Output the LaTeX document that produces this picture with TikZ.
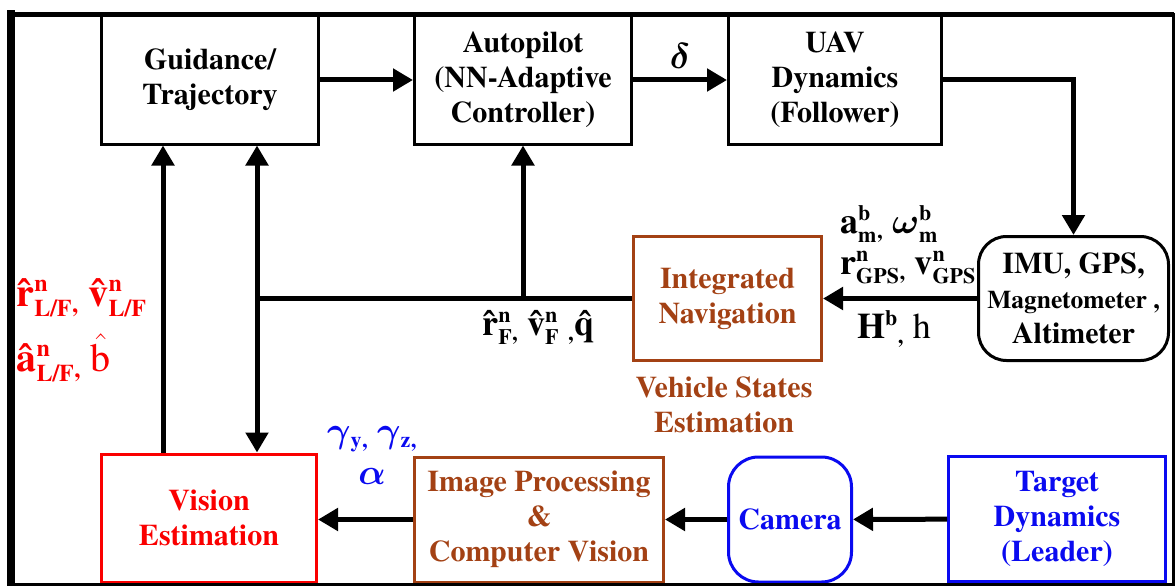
\RequirePackage{fix-cm}
\documentclass[tikz,border=0pt]{standalone}
\usepackage{amsmath}
\usepackage{fontspec}
\setmainfont{texgyretermes}[Extension=.otf, UprightFont=*-regular, BoldFont=*-bold, ItalicFont=*-italic, BoldItalicFont=*-bolditalic]
\usepackage{xcolor}
\usetikzlibrary{arrows.meta, positioning}
\definecolor{navbrown}{RGB}{163,65,20}
\definecolor{visred}{RGB}{250,0,0}
\definecolor{tgtblue}{RGB}{10,10,240}
\DeclareMathSizes{36}{36}{22}{16}
\DeclareMathSizes{40}{40}{24}{18}
\newcommand{\supsub}[2]{\ensuremath{^{\text{#1}}_{\text{#2}}}}
\newcommand{\grk}[1]{\ensuremath{\boldsymbol{#1}}}
\newcommand{\cma}{\ensuremath{{}_{\text{,}}}}

\begin{document}
\begin{tikzpicture}[
    x=1pt, y=-1pt,
    font=\fontsize{30}{35}\selectfont\bfseries,
    box/.style={draw, line width=3pt, align=center, inner sep=0pt, fill=white},
    rbox/.style={box, rounded corners=28pt},
    arrow/.style={-{Triangle[length=20pt, width=22pt]}, line width=5pt},
    link/.style={line width=5pt},
    sym/.style={font=\fontsize{36}{38}\selectfont\bfseries},
    bigsym/.style={font=\fontsize{40}{44}\selectfont\bfseries}
]
\useasboundingbox (0,0) rectangle (1176,586);

% top row
\node[box, minimum width=217pt, minimum height=128pt] (guid) at (210,80) {Guidance/\\Trajectory};
\node[box, minimum width=217pt, minimum height=128pt] (auto) at (523,80) {Autopilot\\(NN-Adaptive\\Controller)};
\node[box, minimum width=213pt, minimum height=128pt] (uav) at (835,80) {UAV\\Dynamics\\(Follower)};

% middle row
\node[rbox, minimum width=190pt, minimum height=124pt] (imu) at (1073.5,298.5)
    {IMU, GPS,\\{\fontsize{25.5}{33}\selectfont Magnetometer ,}\\Altimeter};
\node[box, draw=navbrown, text=navbrown, minimum width=188pt, minimum height=124pt] (intnav) at (727.5,298.5)
    {Integrated\\Navigation};
\node[text=navbrown, align=center] (vse) at (724,405) {Vehicle States\\Estimation};

% bottom row
\node[box, draw=visred, text=visred, minimum width=215pt, minimum height=128pt] (vision) at (209,518) {Vision\\Estimation};
\node[box, draw=navbrown, text=navbrown, minimum width=249pt, minimum height=125pt] (imgproc) at (539,519.5)
    {Image Processing\\\&\\Computer Vision};
\node[rbox, draw=tgtblue, text=tgtblue, rounded corners=30pt, minimum width=123pt, minimum height=125pt] (camera) at (790,519.5) {Camera};
\node[box, draw=tgtblue, text=tgtblue, minimum width=217pt, minimum height=125pt] (target) at (1057,519) {Target\\Dynamics\\(Leader)};

% side labels
\node[bigsym, text=visred, align=left, anchor=west] (relest) at (13,330)
    {\^r\supsub{n}{L/F}\cma\ \^v\supsub{n}{L/F}\\[16pt]\^a\supsub{n}{L/F}\cma\ {\mdseries\ensuremath{\hat{\text{b}}}}};
\node[sym, text=tgtblue, align=center] (angles) at (372,455)
    {\grk{\gamma}\ensuremath{_{\text{y}}}\cma\ \grk{\gamma}\ensuremath{_{\text{z}}}\cma\\[4pt]\grk{\alpha}};

\coordinate (jn) at (257,298.5);

\draw[arrow] (guid) -- (auto);
\draw[arrow] (auto) -- node[sym, above=6pt]{\grk{\delta}} (uav);
\draw[arrow] (uav.east) -| (imu.north);
\draw[arrow] (imu) -- node[sym, above=9pt, align=left, xshift=8pt]{a\supsub{b}{m}\cma\ \grk{\omega}\supsub{b}{m}\\[3pt]r\supsub{n}{GPS}\cma\ v\supsub{n}{GPS}}
    node[sym, below=6pt, xshift=-6pt]{H\textsuperscript{b}\cma\ {\mdseries h}} (intnav);
\draw[link] (intnav.west) -- node[sym, pos=0.25, below=6pt]{\^r\supsub{n}{F}\cma\ \^v\supsub{n}{F} \cma\^q} (jn);
\draw[arrow] (auto.south |- jn) -- (auto.south);
\draw[arrow] (jn) -- (guid.south -| jn);
\draw[arrow] (jn) -- (vision.north -| jn);
\draw[arrow] ([xshift=-46pt]vision.north) -- ([xshift=-47pt]guid.south);
\draw[arrow] (imgproc.west) -- (vision.east |- imgproc.west);
\draw[arrow] (camera) -- (imgproc);
\draw[arrow] (target) -- (camera);

% outer frame
\draw[line width=8pt] (11,586) -- (11,10);
\draw[line width=5pt] (7,14.5) -- (1174,14.5);
\draw[line width=3pt] (1173,13) -- (1173,584.5) -- (11,584.5);
\end{tikzpicture}
\end{document}
